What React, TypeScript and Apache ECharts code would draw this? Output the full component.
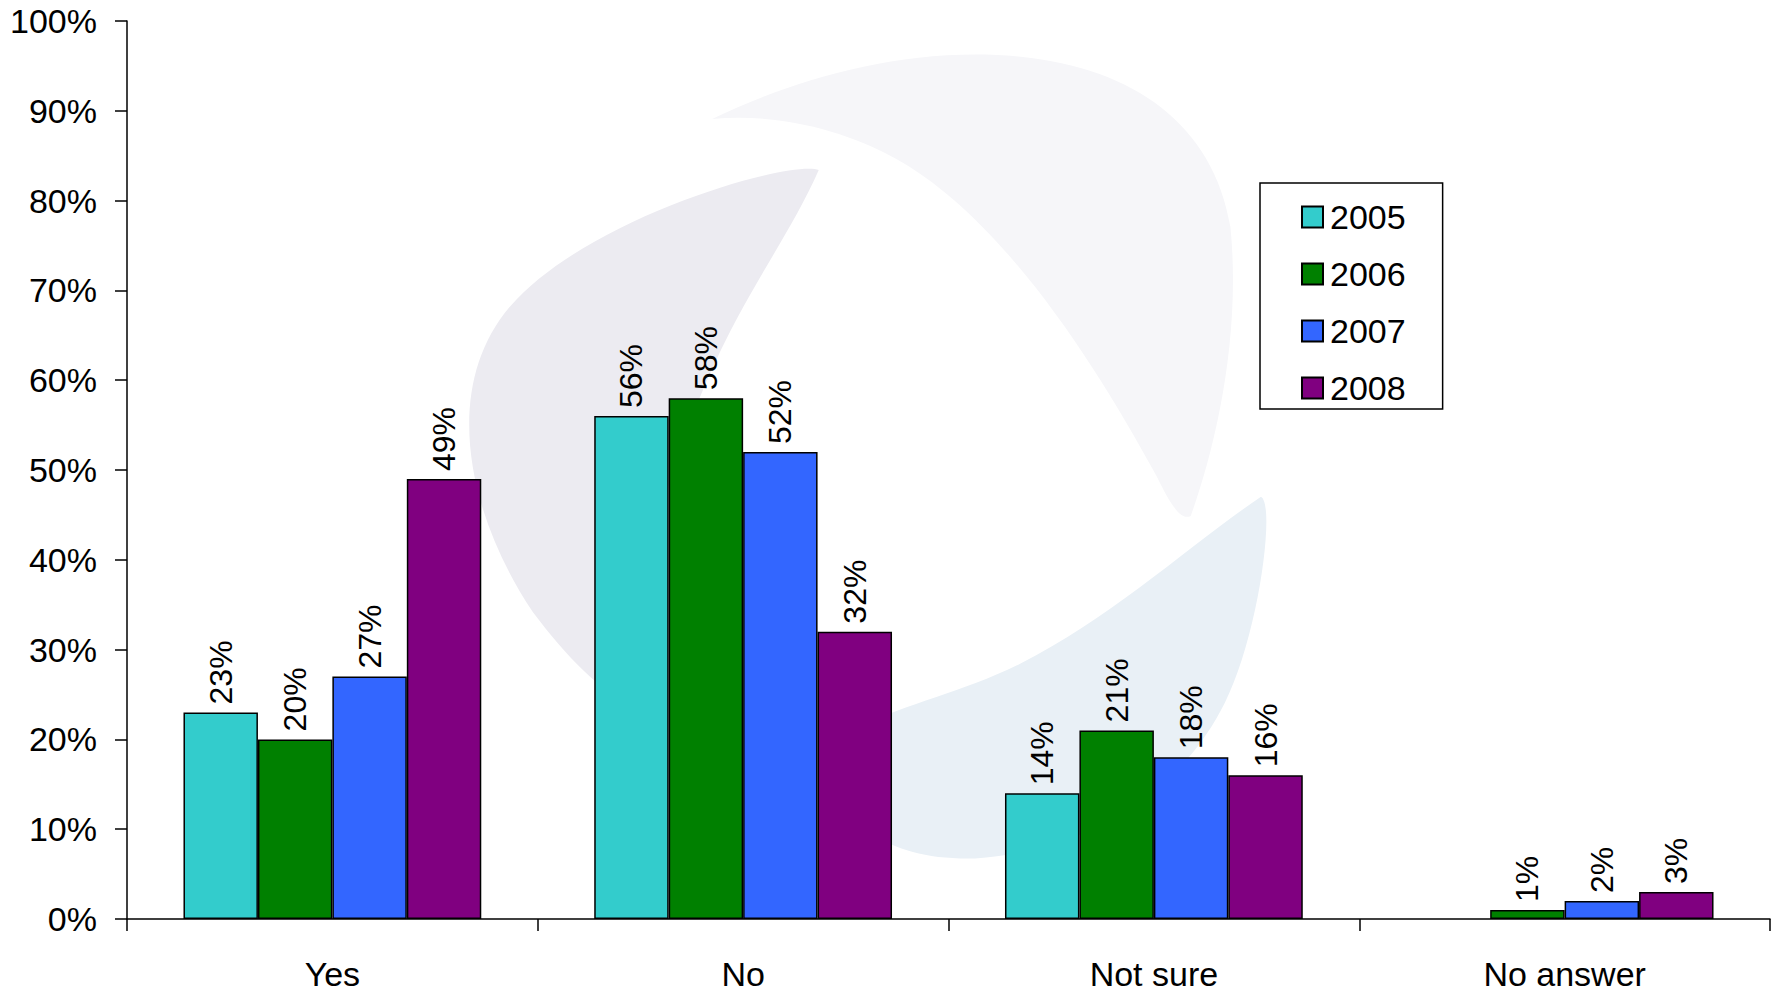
import React, { useEffect, useRef } from "react";
import * as echarts from "echarts";

const categories = ["Yes", "No", "Not sure", "No answer"];
const years = ["2005", "2006", "2007", "2008"];
const values2005: (number | null)[] = [23, 56, 14, null];
const values2006: (number | null)[] = [20, 58, 21, 1];
const values2007: (number | null)[] = [27, 52, 18, 2];
const values2008: (number | null)[] = [49, 32, 16, 3];
const colors = ["#33CCCC", "#008000", "#3366FF", "#800080"];

const FONT = "Liberation Sans";

const blade1 =
  "M 722 150 C 700 140 520 190 450 270 C 390 340 410 450 470 540 C 500 580 530 610 560 625 C 560 500 600 380 640 300 C 670 240 700 200 722 150 Z";
const blade2 =
  "M 628 105 C 700 70 800 40 900 50 C 1000 60 1070 110 1085 200 C 1095 300 1070 400 1050 455 C 1040 460 1030 440 1020 420 C 960 310 880 190 790 140 C 740 112 680 100 628 105 Z";
const blade3 =
  "M 1112 438 C 1125 445 1110 560 1080 620 C 1040 700 960 750 860 757 C 820 758 790 750 770 735 L 760 640 C 800 620 850 610 900 585 C 980 545 1050 480 1112 438 Z";

let registered = false;
function registerShapes() {
  if (registered) return;
  registered = true;
  echarts.graphic.registerShape("blade1", echarts.graphic.extendPath(blade1, {}) as any);
  echarts.graphic.registerShape("blade2", echarts.graphic.extendPath(blade2, {}) as any);
  echarts.graphic.registerShape("blade3", echarts.graphic.extendPath(blade3, {}) as any);
}

export default function App() {
  const ref = useRef<HTMLDivElement>(null);
  useEffect(() => {
    if (!ref.current) return;
    registerShapes();
    const chart = echarts.init(ref.current, undefined, { renderer: "svg" });
    const allValues = [values2005, values2006, values2007, values2008];
    const s = 1778 / 1568;
    chart.setOption({
      animation: false,
      textStyle: { fontFamily: FONT },
      graphic: [
        { type: "blade1", x: 0, y: 0, scaleX: s, scaleY: s, z: -10, silent: true, style: { fill: "#ecebf1" } },
        { type: "blade2", x: 0, y: 0, scaleX: s, scaleY: s, z: -10, silent: true, style: { fill: "#f6f6f9" } },
        { type: "blade3", x: 0, y: 0, scaleX: s, scaleY: s, z: -10, silent: true, style: { fill: "#e9f0f6" } },
      ],
      grid: { left: 127, right: 8, top: 21, bottom: 77, containLabel: false },
      legend: {
        orient: "vertical",
        left: 1260,
        top: 183,
        data: years,
        icon: "rect",
        itemWidth: 21,
        itemHeight: 21,
        itemGap: 23,
        padding: [17, 37, 4, 41],
        borderColor: "#000",
        borderWidth: 1.5,
        backgroundColor: "#fff",
        textStyle: { fontSize: 34, color: "#000", fontFamily: FONT, lineHeight: 34, padding: [0, 0, 0, 2] },
      },
      xAxis: {
        type: "category",
        data: categories,
        axisLine: { lineStyle: { color: "#000", width: 1.5 } },
        axisTick: { show: true, length: 12, alignWithLabel: false, lineStyle: { color: "#000", width: 1.5 } },
        axisLabel: { fontSize: 34, color: "#000", margin: 38, fontFamily: FONT },
      },
      yAxis: {
        type: "value",
        min: 0,
        max: 100,
        interval: 10,
        splitLine: { show: false },
        axisLine: { show: true, lineStyle: { color: "#000", width: 1.5 } },
        axisTick: { show: true, length: 12, lineStyle: { color: "#000", width: 1.5 } },
        axisLabel: { fontSize: 34, color: "#000", margin: 30, formatter: "{value}%", fontFamily: FONT },
      },
      series: years.map((y, i) => ({
        name: y,
        type: "bar",
        data: allValues[i],
        barGap: "0%",
        barCategoryGap: "27.5%",
        itemStyle: { color: colors[i], borderColor: "#000", borderWidth: 1.5 },
        label: {
          show: true,
          position: "top",
          rotate: 90,
          align: "left",
          verticalAlign: "middle",
          distance: 8,
          formatter: "{c}%",
          fontSize: 32,
          color: "#000",
          fontFamily: FONT,
        },
      })),
    });
    return () => chart.dispose();
  }, []);
  return (
    <div
      ref={ref}
      style={{ position: "fixed", left: 0, top: 0, width: 1778, height: 996, background: "#fff" }}
    />
  );
}
